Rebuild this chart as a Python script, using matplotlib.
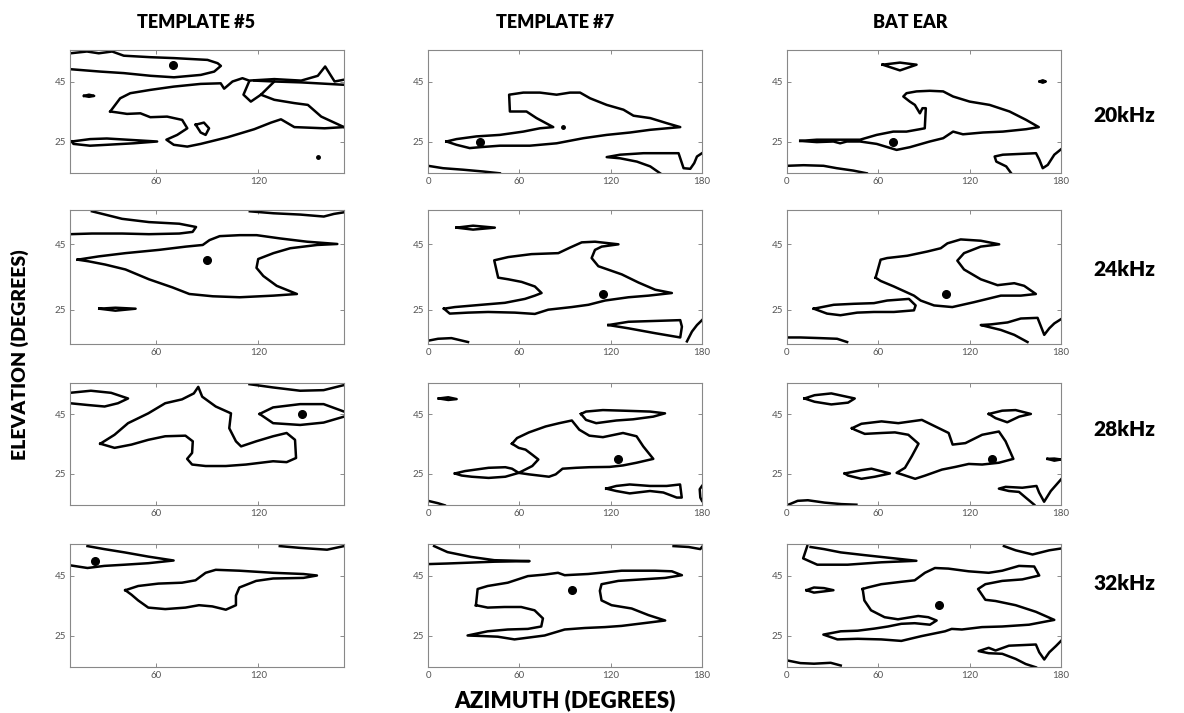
import matplotlib.pyplot as plt

plt.rcParams['font.family'] = ['Lato', 'DejaVu Sans']

column_titles = ["TEMPLATE #5", "TEMPLATE #7", "BAT EAR"]
row_titles = ["20kHz", "24kHz", "28kHz", "32kHz"]
x_ranges = [(10, 170), (0, 180), (0, 180)]
x_ticks = [[60, 120], [0, 60, 120, 180], [0, 60, 120, 180]]
y_range = (14.5, 55.5)
y_ticks = [25, 45]

# contour outlines, (azimuth, elevation) pairs
t5_20_lines = [
    [(10.2, 54.4), (19.9, 55.0), (26.8, 54.4), (34.6, 55.0), (41.4, 53.6), (57.1, 53.1), (70.7, 52.8), (90.3, 52.2),
     (96.2, 51.1), (98.1, 50.2), (94.2, 48.3), (86.4, 47.2), (70.7, 46.4), (57.1, 46.9), (41.4, 47.8), (27.8, 48.3), (10.2, 49.1)],
    [(18.2, 40.2), (21.1, 40.6), (24.1, 40.2), (21.1, 39.9), (18.2, 40.2)],
    [(33.5, 35.0), (39.3, 39.4), (45.2, 41.1), (56.9, 42.2), (70.6, 43.3), (86.3, 44.2), (98, 44.4), (100, 42.6),
     (104.9, 45), (110.7, 46.1), (114.6, 45.3), (129.3, 45.8), (145, 45.3), (154.7, 46.9), (159, 50), (164.5, 45), (170, 45.6)],
    [(117.6, 45.3), (129.3, 45), (145, 44.7), (170, 43.9)],
    [(114.6, 45), (111.3, 40.6), (115.6, 38.3), (121.5, 40.6), (129.3, 45)],
    [(121.5, 40.6), (129.3, 38.9), (141, 37.8), (148.9, 37.2), (156.7, 33.3), (170, 29.8)],
    [(170, 29.8), (158.7, 29.4), (141, 29.8), (133.2, 32.4), (127.4, 31.3), (117.6, 29.1), (101.9, 26.4), (86.3, 24.2),
     (78.5, 23.3), (70.6, 23.9), (66.3, 25.6), (72.6, 27.2), (78.5, 29.4), (75.5, 32.2), (66.7, 33.3), (56.9, 33.1),
     (51.1, 34.4), (43.3, 34.2), (37.4, 34.7), (33.5, 35)],
    [(83.4, 30.6), (88.2, 31.3), (91.2, 29.4), (89.2, 27.2), (86.3, 28), (83.4, 30.6)],
    [(11, 25), (21.7, 25.8), (31.5, 26), (43.3, 25.6), (60.9, 25), (47.2, 24.4), (31.5, 23.9), (21.7, 23.6), (12, 24.2), (11, 25)],
]
t5_20_peak = (70, 50.4)
t5_20_specks = [(154.7, 19.8)]

t7_20_lines = [
    [(12.1, 25), (18.7, 25.8), (31.8, 26.7), (47.2, 27.2), (62.6, 28.3), (73.5, 29.4), (82.3, 29.8), (71.3, 32.8),
     (64.7, 35), (53.8, 35), (53.3, 40.6), (62.6, 41.3), (73.5, 41.3), (84.5, 40.6), (93.3, 41.3), (99.9, 41.3),
     (106.5, 39.4), (117.4, 37.2), (128.4, 35.6), (135, 33.6), (146, 32.8), (156.9, 31.1), (165.7, 29.8), (156.9, 29.4),
     (146, 28.9), (132.8, 28), (117.4, 27.2), (102.1, 26.1), (84.5, 24.4), (66.9, 23.6), (47.2, 23.6), (34, 23.1),
     (27.4, 22.8), (18.7, 23.9), (12.1, 25)],
    [(0, 16.9), (9.9, 16.1), (23, 15.6), (36.2, 15), (47.2, 14.4)],
    [(152.5, 14.4), (146, 16.7), (137.2, 18.3), (126.2, 19.4), (117.4, 19.8), (126.2, 20.6), (141.6, 21.1), (164.6, 21.1),
     (167.9, 16.1), (172.3, 15.9), (174.9, 17.8), (176.7, 20), (180, 21.1)],
]
t7_20_peak = (34, 24.8)
t7_20_specks = [(88.9, 29.7)]

bat_20_lines = [
    [(62.8, 50.6), (74.2, 51.3), (85.1, 50.6), (74.2, 48.7), (62.8, 50.6)],
    [(166, 45), (168, 45.4), (170, 45), (168, 44.6), (166, 45)],
    [(8.7, 25.2), (19.6, 25.6), (32.7, 25.6), (48, 25.6), (58.9, 27.2), (69.8, 28.3), (78.5, 28.3), (87.3, 29.1),
     (90.5, 29.4), (91.2, 36.1), (89, 36.1), (87.3, 34.4), (84, 37.2), (80.7, 38.3), (76.4, 40), (78.5, 41.1),
     (85.1, 41.7), (93.8, 41.9), (102.6, 41.7), (109.1, 40), (120, 38.3), (133.1, 37.2), (146.2, 35), (157.1, 32.2),
     (165.4, 29.8), (157.1, 29.1), (141.8, 28.3), (128.7, 28), (115.6, 27.4), (109.1, 28.3), (102.6, 26.1), (93.8, 25),
     (80.7, 23.1), (72, 22.2), (58.9, 24.2), (48, 25), (39.3, 25), (34.9, 24.4), (30.5, 25), (19.6, 24.8), (8.7, 25.2)],
    [(0, 16.9), (10.9, 17.1), (24, 16.9), (32.7, 16.1), (43.6, 15.3), (52.4, 14.4)],
    [(147.3, 14.4), (144, 16.7), (137.5, 18.3), (136.4, 20), (141.8, 20.6), (154.9, 20.9), (163.6, 21.1), (165.8, 18.9),
     (168, 16.1), (171.3, 17.2), (175.6, 20.6), (180, 22.4)],
]
bat_20_peak = (69.4, 24.8)
bat_20_specks = []

t5_24_lines = [
    [(22.8, 55.1), (40.4, 52.8), (56.1, 51.8), (73.8, 51.3), (83.6, 50.3), (81.6, 48.8), (73.8, 48.3), (56.1, 48.1),
     (40.4, 48.3), (22.8, 48.3), (10, 48.1)],
    [(115, 55.1), (128.8, 54.5), (144.5, 54.1), (158.2, 53.5), (164.1, 54.3), (170, 54.8)],
    [(14.5, 40.3), (26.7, 41.3), (42.4, 42.3), (62, 43.3), (77.7, 44.3), (87.5, 44.8), (91.5, 46.3), (97.4, 47.5),
     (109.1, 47.8), (119, 47.8), (132.7, 46.8), (148.4, 45.8), (166.1, 45.1), (154.3, 44.8), (138.6, 43.8), (128.8, 42.3),
     (119.9, 40.5), (118.9, 37.8), (122.9, 35.3), (130.7, 32.3), (142.5, 29.8), (128.8, 29.3), (109.1, 28.8), (93.4, 29.1),
     (79.7, 29.8), (69.9, 31.8), (56.1, 34.3), (42.4, 37.3), (30.6, 38.8), (20.8, 39.8), (14.5, 40.3)],
    [(27.1, 25.3), (36.5, 25.6), (48.3, 25.3), (36.5, 24.7), (27.1, 25.3)],
]
t5_24_peak = (90.1, 40.1)
t5_24_specks = []

t7_24_lines = [
    [(18.7, 50.1), (29.6, 50.7), (43.9, 50.1), (29.6, 49.5), (18.7, 50.1)],
    [(10.5, 25.3), (17.6, 25.8), (35.1, 26.5), (50.5, 27.1), (63.7, 28.3), (70.2, 29.3), (74.6, 30.1), (70.2, 32.1),
     (61.5, 33.5), (52.7, 34.3), (46.1, 34.8), (43.5, 40.1), (52.7, 41.1), (68, 42), (85.6, 42.3), (93.3, 44),
     (101, 45.6), (109.7, 45.8), (125.1, 45), (114.1, 44.3), (109.7, 43.3), (107.5, 40.8), (111.9, 38.3), (127.3, 35.8),
     (138.3, 33.3), (149.3, 31.1), (160.2, 30.1), (144.9, 29.3), (131.7, 28.8), (116.3, 27.8), (105.4, 26.5), (94.4, 25.8),
     (79, 25), (70.2, 23.7), (57.1, 24.1), (39.5, 24.3), (26.3, 24.1), (14.3, 23.8), (10.5, 25.3)],
    [(0, 15.5), (6.6, 16.1), (15.4, 16.3), (26.3, 15.1)],
    [(118.5, 20.3), (131.7, 21.3), (165.7, 21.8), (166.8, 19.8), (165.7, 16.5), (149.3, 17.8), (131.7, 19.3), (118.5, 20.3)],
    [(170.1, 15.3), (173.4, 18.3), (176.7, 20.3), (180, 21.8)],
]
t7_24_peak = (114.8, 29.8)
t7_24_specks = []

bat_24_lines = [
    [(58.2, 34.8), (61.5, 40.3), (65.8, 40.8), (79, 41.5), (92.2, 42.8), (101, 43.8), (105.4, 45.3), (114.1, 46.5),
     (127.3, 46.1), (139.4, 45), (127.3, 44.3), (116.3, 42.3), (111.9, 40), (116.3, 37.3), (127.3, 34.3), (138.3, 32.5),
     (149.3, 33.1), (155.8, 32.3), (163.5, 29.8), (153.6, 29.3), (140.5, 29.3), (131.7, 28.3), (122.9, 27.3), (108.6, 25.8),
     (96.6, 26.3), (87.8, 27.8), (83.4, 29.3), (70.2, 32.1), (61.5, 33.8), (58.2, 34.8)],
    [(17.6, 25.3), (30.7, 26.5), (43.9, 26.8), (57.1, 27), (65.8, 27.8), (80.1, 28.3), (84.5, 26.3), (83.4, 24.8),
     (70.2, 24.3), (57.1, 24.3), (46.1, 24.1), (35.1, 23.3), (26.3, 23.8), (17.6, 25.3)],
    [(0, 16.5), (8.8, 16.5), (21.9, 16.3), (32.9, 16.1), (39.5, 15.1)],
    [(158, 15.1), (149.3, 17.3), (140.5, 18.8), (131.7, 19.8), (127.3, 20.3), (133.9, 20.5), (144.9, 21.1), (153.6, 22.3),
     (164.6, 22.5), (169, 17.3), (172.3, 19.3), (175.6, 20.8), (180, 22.1)],
]
bat_24_peak = (104.7, 29.8)
bat_24_specks = []

t5_28_lines = [
    [(10, 52.2), (22.2, 52.9), (34, 52.2), (43.9, 50.3), (38, 48.7), (30.2, 47.6), (20.4, 48.1), (10, 48.7)],
    [(114.8, 55.1), (128.6, 54), (144.4, 52.9), (158.1, 53.1), (170, 54.8)],
    [(120.7, 45.1), (128.6, 47.3), (144.4, 48.4), (158.1, 48.4), (170, 45.9)],
    [(170, 44.2), (158.1, 42.2), (144.4, 41.4), (128.6, 42), (120.7, 45.1)],
    [(27.7, 35.1), (36, 38.1), (43.9, 42), (55.7, 45.3), (65.6, 48.7), (75.4, 50), (82.3, 52), (84.9, 54.2),
     (87.2, 50.9), (95.1, 47.6), (104, 45.3), (103, 40.3), (106.9, 35.9), (109.9, 34.2), (118.7, 35.9), (128.6, 37.6),
     (136.5, 38.7), (141.4, 36.4), (142, 30.3), (136.5, 28.9), (128.6, 29.2), (112.8, 28.1), (101, 27.6), (89.2, 27.6),
     (81.3, 28.1), (78.4, 30), (81.3, 32), (81.7, 35.9), (77.4, 37.8), (65.6, 37.6), (55.7, 36.4), (45.9, 34.8),
     (36, 33.7), (27.7, 35.1)],
]
t5_28_peak = (145.7, 45.1)
t5_28_specks = []

t7_28_lines = [
    [(7.1, 50.3), (13.3, 50.7), (18.8, 50.1), (13.3, 49.8), (7.1, 50.3)],
    [(100.5, 45.1), (103.8, 45.9), (114.9, 46.4), (128.1, 46.2), (145.8, 45.9), (155.7, 45.3), (148, 44.2), (134.7, 43.3),
     (123.7, 42.9), (110.5, 42), (103.8, 43.1), (100.5, 45.1)],
    [(55.2, 35.1), (58.5, 37), (66.3, 38.9), (77.3, 40.9), (86.2, 42), (94.5, 42.9), (99.4, 39.8), (106, 37.8),
     (114.9, 37.3), (128.1, 38.7), (137, 37.6), (141.4, 34.2), (148, 30), (137, 28.7), (128.1, 27.8), (119.3, 27.3),
     (106, 27.2), (97.2, 27), (88.4, 26.7), (83.9, 24.8), (79.5, 24), (66.3, 24.8), (59.6, 25.3), (68.5, 27.6),
     (72.5, 29.8), (68.5, 31.4), (64.1, 33.1), (59.6, 33.7), (55.2, 35.1)],
    [(17.7, 25.1), (24.3, 25.9), (39.8, 27), (50.8, 27.2), (55.2, 26.7), (59.6, 25.3), (50.8, 24), (39.8, 23.6),
     (28.7, 24), (22.1, 24.4), (17.7, 25.1)],
    [(0, 15.9), (6.6, 15.1), (11, 14.4)],
    [(117.1, 20), (123.7, 20.9), (132.5, 21.4), (145.8, 20.9), (156.8, 20.9), (165.6, 21.4), (166.7, 17), (163.4, 17),
     (154.6, 18.7), (145.8, 19.2), (132.5, 18.4), (123.7, 19.2), (117.1, 20)],
    [(180, 20.9), (178.5, 19.8), (178.9, 17), (180, 15.9)],
]
t7_28_peak = (124.8, 29.8)
t7_28_specks = []

bat_28_lines = [
    [(11.5, 50.3), (18.1, 51.4), (29.1, 52), (44.5, 50.3), (40.1, 48.9), (29.1, 48.3), (18.1, 49.2), (11.5, 50.3)],
    [(132.6, 45.1), (141.4, 46.2), (150.2, 46.4), (160.2, 45.1), (152.5, 44.2), (144.7, 42.3), (137, 43.7), (132.6, 45.1)],
    [(42.7, 40.3), (48.9, 41.8), (62.1, 42.6), (73.1, 42), (88.6, 43.1), (97.4, 40.9), (106.2, 38.7), (108.8, 34.8),
     (117.2, 35.3), (128.2, 38.1), (139.2, 39.2), (143.6, 35.9), (148.7, 30), (139.2, 28.7), (128.2, 28.1), (119.4, 28.3),
     (110.6, 27.3), (101.8, 26.4), (90.8, 24.4), (84.2, 23.3), (75.3, 24.8), (72, 25.3), (77.5, 27), (82, 30.9),
     (86.4, 35.1), (79.7, 38.1), (70.9, 38.9), (62.1, 38.7), (51.1, 38.4), (44.5, 39.8), (42.7, 40.3)],
    [(37.9, 25.1), (48.9, 26.2), (55.5, 26.7), (67.6, 25.1), (57.7, 24), (48.9, 23.3), (40.1, 24.4), (37.9, 25.1)],
    [(171.2, 30), (175.6, 30.1), (180, 29.8), (175.6, 29.4), (171.2, 30)],
    [(0, 14.4), (7, 15.9), (13.7, 16.1), (24.7, 15.3), (35.7, 14.8), (45.6, 14.6)],
    [(162.4, 14.6), (156.8, 17), (152.4, 18.9), (145.8, 19.2), (139.2, 20), (143.6, 20.6), (154.6, 20.3), (163.9, 20.9),
     (165.6, 18.7), (168.9, 15.6), (173.3, 19.2), (180, 23.1)],
]
bat_28_peak = (134.8, 29.8)
bat_28_specks = []

t5_32_lines = [
    [(20.2, 54.8), (30, 53.8), (41.9, 52.7), (55.7, 51.3), (70.5, 50), (55.7, 49.1), (41.9, 48.6), (30, 48.2),
     (20.2, 47.5), (10, 48.4)],
    [(132.5, 54.8), (144.4, 54.2), (160.1, 53.6), (170, 54.8)],
    [(42.3, 40.1), (49.8, 41.5), (61.6, 42.3), (75.4, 42.6), (83.3, 43.4), (89.2, 45.9), (95.1, 46.9), (108.9, 46.6),
     (128.6, 45.9), (146.3, 45.5), (154.2, 45), (146.3, 44.2), (128.6, 44), (118.7, 43.2), (108.9, 41), (106.9, 38.3),
     (106.9, 35.1), (101, 33.6), (93.1, 34.7), (85.3, 35.1), (77.4, 34.3), (65.6, 33.8), (55.7, 34.3), (49.8, 36.7),
     (45.9, 38.6), (42.3, 40.1)],
]
t5_32_peak = (24.6, 50)
t5_32_specks = []

t7_32_lines = [
    [(4, 54.8), (12.8, 52.8), (28.2, 51.2), (43.6, 50.1), (66.7, 49.8), (43.6, 49.6), (28.2, 49.3), (12.8, 49), (0, 48.8)],
    [(161.3, 54.8), (171.2, 54.5), (178.9, 53.8), (180, 54.5)],
    [(31.5, 35.1), (32.6, 40.5), (39.2, 41.5), (52.4, 42.6), (65.6, 44.8), (76.6, 45.3), (85.4, 45.9), (89.8, 45.1),
     (105.2, 45.5), (127.2, 46.6), (149.2, 46.6), (160.2, 46.4), (166.8, 45.1), (155.8, 44.2), (140.4, 43.7), (125, 43.2),
     (114, 42.1), (112.9, 39.9), (114, 36.7), (120.6, 35.1), (133.8, 34), (144.8, 31.8), (155.8, 30), (144.8, 29.3),
     (127.2, 28.2), (116.2, 27.8), (103, 27.5), (89.8, 27), (76.6, 25), (56.8, 23.7), (45.8, 24.6), (37, 24.8),
     (26, 25), (39.2, 26.4), (52.4, 27), (65.6, 27.2), (74.4, 28), (75.5, 30.7), (70, 33.4), (61.2, 34.5),
     (50.2, 34.5), (39.2, 34.3), (31.5, 35.1)],
]
t7_32_peak = (94.6, 40.1)
t7_32_specks = []

bat_32_lines = [
    [(13.3, 54.8), (10.6, 50.7), (19.9, 48.6), (39.8, 48.6), (61.9, 49.4), (85, 49.9), (70.7, 50.7), (50.8, 51.8),
     (35.3, 52.7), (24.3, 53.8), (15.5, 54.5)],
    [(142.5, 54.8), (150.2, 53.4), (161.3, 52), (172.3, 53.4), (180, 54)],
    [(12.8, 40.1), (17.7, 41), (24.3, 40.8), (30.5, 40.1), (24.3, 39.7), (17.7, 39.3), (12.8, 40.1)],
    [(49.7, 40.5), (50.8, 36.7), (55.2, 33.4), (64.1, 31.1), (72.9, 30.4), (86.2, 31.5), (92.8, 31.1), (98.3, 30),
     (93.9, 28.6), (83.9, 29.1), (75.1, 28.9), (66.3, 28), (57.4, 27.3), (46.4, 26.6), (35.3, 26.4), (23.9, 25.3),
     (33.1, 23.7), (46.4, 23.9), (61.9, 23.7), (75.1, 23.2), (88.4, 24.8), (103.8, 26.4), (108.2, 27.2), (114.9, 27),
     (128.1, 27.8), (141.4, 28), (159, 28.6), (175.6, 30.2), (163.5, 32.9), (150.2, 35.1), (137, 36.5), (130.3, 36.9),
     (125.5, 40.5), (130.3, 42.1), (141.4, 43.2), (154.6, 43.7), (165.7, 45), (162.4, 48), (152.4, 48.2), (141.4, 46.6),
     (132.5, 45.9), (119.3, 46.4), (106, 47.3), (97.2, 47.5), (90.6, 45.9), (83.9, 43.4), (75.1, 42.9), (61.9, 42.1),
     (53, 41), (49.7, 40.5)],
    [(0, 16.7), (8.8, 15.8), (17.7, 15.6), (28.7, 15.9), (35.3, 15)],
    [(163.5, 14.4), (156.8, 15.5), (150.2, 17.2), (141.4, 18.9), (132.5, 19.1), (125.9, 19.8), (132.5, 20.9), (137, 20),
     (145.8, 21.6), (163.5, 22), (165.7, 19.4), (169, 17), (172.3, 19.4), (176.7, 21.5), (180, 23.2)],
]
bat_32_peak = (99.8, 35.1)
bat_32_specks = []

panels = [
    [(t5_20_lines, t5_20_peak, t5_20_specks), (t7_20_lines, t7_20_peak, t7_20_specks), (bat_20_lines, bat_20_peak, bat_20_specks)],
    [(t5_24_lines, t5_24_peak, t5_24_specks), (t7_24_lines, t7_24_peak, t7_24_specks), (bat_24_lines, bat_24_peak, bat_24_specks)],
    [(t5_28_lines, t5_28_peak, t5_28_specks), (t7_28_lines, t7_28_peak, t7_28_specks), (bat_28_lines, bat_28_peak, bat_28_specks)],
    [(t5_32_lines, t5_32_peak, t5_32_specks), (t7_32_lines, t7_32_peak, t7_32_specks), (bat_32_lines, bat_32_peak, bat_32_specks)],
]

W, H = 1184, 713
fig = plt.figure(figsize=(W / 100, H / 100), dpi=100)
fig.patch.set_facecolor('white')

col_left = [70, 428, 787]
col_width = 274
row_top = [50, 210, 383, 544]
row_bottom = [173, 344, 505, 667]

for r in range(4):
    for c in range(3):
        ax = fig.add_axes([col_left[c] / W, 1 - row_bottom[r] / H, col_width / W, (row_bottom[r] - row_top[r]) / H])
        lines, peak, specks = panels[r][c]
        for ln in lines:
            xs = [p[0] for p in ln]
            ys = [p[1] for p in ln]
            ax.plot(xs, ys, color='black', lw=1.8, solid_joinstyle='round')
        ax.plot(peak[0], peak[1], 'o', color='black', ms=5.5)
        for s in specks:
            ax.plot(s[0], s[1], 'o', color='black', ms=2.5)
        ax.set_xlim(*x_ranges[c])
        ax.set_ylim(*y_range)
        ax.set_xticks(x_ticks[c])
        ax.set_yticks(y_ticks)
        ax.tick_params(direction='in', length=3, width=0.6, colors='#777777', labelcolor='#555555',
                       labelsize=7, top=True, right=True, pad=3)
        for sp in ax.spines.values():
            sp.set_color('#888888')
            sp.set_linewidth(0.8)

title_x = [196, 555, 910]
for c, t in enumerate(column_titles):
    fig.text(title_x[c] / W, 1 - 22 / H, t, ha='center', va='center', fontsize=13, fontweight='heavy')

row_label_y = [115, 270, 430, 583]
for r, t in enumerate(row_titles):
    fig.text(1124 / W, 1 - row_label_y[r] / H, t, ha='center', va='center', fontsize=15, fontweight='heavy')

fig.text(20 / W, 1 - 355 / H, "ELEVATION (DEGREES)", rotation=90, ha='center', va='center', fontsize=14, fontweight='heavy')
fig.text(565 / W, 1 - 700 / H, "AZIMUTH (DEGREES)", ha='center', va='center', fontsize=16, fontweight='heavy')

fig.savefig('out.png', dpi=100)
